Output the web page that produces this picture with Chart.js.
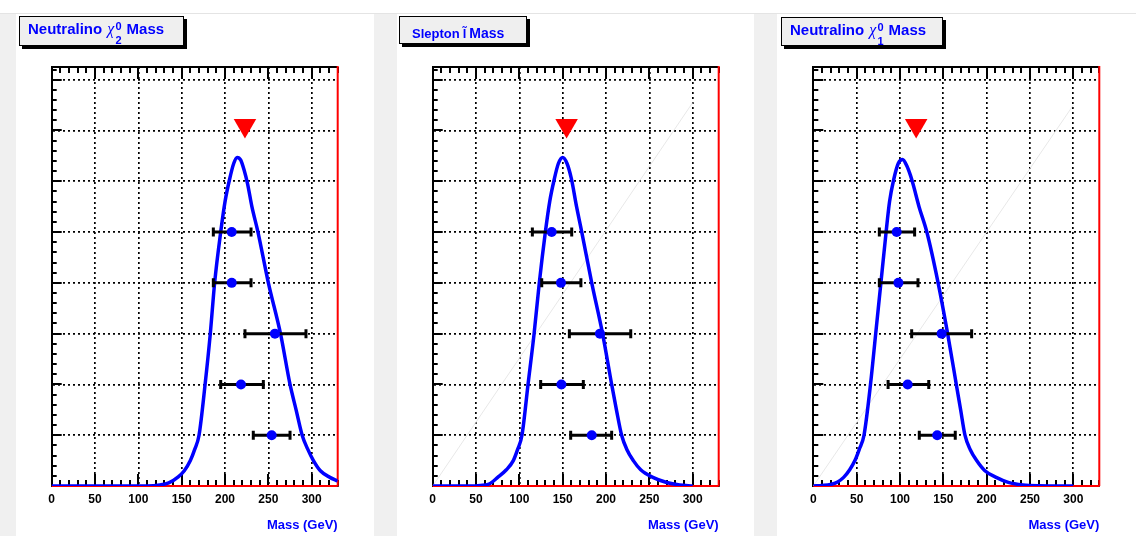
<!DOCTYPE html>
<html>
<head>
<meta charset="utf-8">
<script src="https://cdn.jsdelivr.net/npm/chart.js@4.4.1/dist/chart.umd.min.js"></script>
<style>
  html, body { margin: 0; padding: 0; background: #fff; }
  body { width: 1136px; height: 536px; position: relative; overflow: hidden; font-family: 'Liberation Sans', Arial, sans-serif; }
  .strip { position: absolute; left: 0; top: 13px; width: 1136px; height: 523px; background: #f0f0f0; border-top: 1px solid #e4e4e4; box-sizing: border-box; }
  .pad { position: absolute; top: 14px; height: 522px; background: #fff; }
  .pad canvas { position: absolute; left: 0; top: 0; }
  .tbox { position: absolute; background: #efefef; border: 1px solid #000; box-shadow: 3px 3px 0 #000; box-sizing: border-box; color: #00f; font-weight: bold; }
  .tbox .t { position: absolute; white-space: nowrap; }
  .big { font-size: 15px; line-height: 15px; }
  .small { font-size: 13px; line-height: 13px; }
  .chi { font-family: 'Liberation Serif', serif; font-style: italic; font-weight: normal; font-size: 16px; margin-left: 1px; }
  .ss { display: inline-block; vertical-align: top; position: relative; width: 8px; height: 15px; }
  .ss span { position: absolute; left: 1px; font-size: 11px; line-height: 11px; }
  .ss .sup { top: 0; }
  .ss .sub { top: 14px; }
  .lt { margin-left: 3px; margin-right: 3px; }
  .m14 { font-size: 14px; }
</style>
</head>
<body>
<div class="strip"></div>
<div class="pad" style="left:16px;width:358px"><canvas id="c1" width="358" height="522"></canvas></div>
<div class="pad" style="left:397px;width:357px"><canvas id="c2" width="357" height="522"></canvas></div>
<div class="pad" style="left:777px;width:359px"><canvas id="c3" width="359" height="522"></canvas></div>

<div class="tbox" style="left:19px;top:16px;width:165px;height:30px">
  <div class="t big" style="left:8px;top:4px">Neutralino <span class="chi">χ</span><span class="ss"><span class="sup">0</span><span class="sub">2</span></span> Mass</div>
</div>
<div class="tbox" style="left:399px;top:16px;width:128px;height:28px">
  <div class="t small" style="left:12px;top:10px">Slepton<span class="lt">l̃</span><span class="m14">Mass</span></div>
</div>
<div class="tbox" style="left:781px;top:17px;width:162px;height:29px">
  <div class="t big" style="left:8px;top:4px">Neutralino <span class="chi">χ</span><span class="ss"><span class="sup">0</span><span class="sub">1</span></span> Mass</div>
</div>

<script>
'use strict';

const $ = id => document.getElementById(id);

// ── axes ─────────────────────────────────────────────────────
const X_MAX = 330;
const Y_MAX = 8.25;
const xTicks = [0, 50, 100, 150, 200, 250, 300];
const yGrid  = [1, 2, 3, 4, 5, 6, 7, 8];
const xTitle = 'Mass (GeV)';
const markY  = 7.1;

// ── Neutralino chi2 ──────────────────────────────────────────
const chi2CurveX = [0, 60, 110, 125, 135, 146, 153, 160, 165, 170, 177, 183, 188, 195, 200, 205, 210, 214, 218, 222, 226, 231, 238, 250, 264, 275, 282, 289, 295, 302, 310, 321, 330];
const chi2CurveY = [0, 0, 0, 0.02, 0.06, 0.18, 0.3, 0.5, 0.72, 1.0, 2.0, 3.0, 4.0, 5.0, 5.6, 6.02, 6.35, 6.47, 6.42, 6.22, 5.95, 5.5, 5.0, 4.0, 3.0, 2.0, 1.5, 1.0, 0.74, 0.5, 0.3, 0.17, 0.1];
const chi2PtX  = [207.7, 207.7, 257.6, 218.4, 253.8];
const chi2PtY  = [5, 4, 3, 2, 1];
const chi2ErrLo = [186.5, 186.5, 223, 195, 232.6];
const chi2ErrHi = [230, 230, 293.4, 244.2, 275];
const chi2Mark = 223;

// ── Slepton ──────────────────────────────────────────────────
const slepCurveX = [0, 40, 55, 65, 75, 85, 93, 98, 103, 110, 117, 123, 130, 135, 140, 145, 150, 155, 160, 166, 172, 183.5, 196, 206.5, 212, 218, 224, 231.5, 240, 254, 270, 285, 300];
const slepCurveY = [0, 0, 0.01, 0.04, 0.17, 0.32, 0.5, 0.72, 1.0, 2.0, 3.0, 4.0, 5.0, 5.6, 6.02, 6.35, 6.47, 6.35, 6.05, 5.5, 5.0, 4.0, 3.0, 2.0, 1.5, 1.0, 0.72, 0.5, 0.32, 0.17, 0.07, 0.02, 0];
const slepPtX  = [137.3, 148, 193, 148.5, 183.5];
const slepPtY  = [5, 4, 3, 2, 1];
const slepErrLo = [115, 125.8, 157.7, 124.6, 159.2];
const slepErrHi = [160.4, 171, 228.5, 173.8, 206.5];
const slepMark = 154.5;
const slepDiagX = [0, 300];
const slepDiagY = [0, 7.55];

// ── Neutralino chi1 ──────────────────────────────────────────
const chi1CurveX = [0, 10, 20, 28, 35, 42, 48, 53, 58.5, 66, 72, 78, 84, 88, 92.6, 98, 103, 108, 112, 115, 122, 131, 144, 155, 165, 170, 175, 181, 188.5, 198, 211, 225, 242, 260, 300];
const chi1CurveY = [0, 0.01, 0.03, 0.08, 0.17, 0.32, 0.5, 0.72, 1.0, 2.0, 3.0, 4.0, 5.0, 5.6, 6.02, 6.35, 6.43, 6.3, 6.12, 5.95, 5.5, 5.0, 4.0, 3.0, 2.0, 1.5, 1.0, 0.72, 0.5, 0.3, 0.17, 0.07, 0.02, 0.005, 0];
const chi1PtX  = [96.2, 98.2, 148.1, 108.9, 143];
const chi1PtY  = [5, 4, 3, 2, 1];
const chi1ErrLo = [76.2, 76.2, 113.5, 86.3, 122.3];
const chi1ErrHi = [116.9, 120.8, 182.7, 133.2, 163.8];
const chi1Mark = 118.7;
const chi1DiagX = [0, 300];
const chi1DiagY = [0, 7.5];

const zip = (xs, ys) => xs.map((x, i) => ({ x, y: ys[i] }));

// ── frame: inward ticks, top edge, red right/bottom ─────────
const framePlugin = {
  id: 'frame',
  beforeDatasetsDraw(chart) {
    const { ctx, chartArea: a, scales: { x, y } } = chart;
    ctx.save();
    ctx.strokeStyle = '#000';
    ctx.lineWidth = 2;
    ctx.beginPath();
    for (let v = 0; v <= X_MAX; v += 10) {
      const px = Math.round(x.getPixelForValue(v));
      const len = v % 50 === 0 ? 12 : 6;
      ctx.moveTo(px, a.bottom); ctx.lineTo(px, a.bottom - len);
      ctx.moveTo(px, a.top);    ctx.lineTo(px, a.top + len);
    }
    for (let i = 0; i / 5 <= Y_MAX; i++) {
      const py = Math.round(y.getPixelForValue(i / 5));
      const len = i % 5 === 0 ? 10 : 5;
      ctx.moveTo(a.left, py); ctx.lineTo(a.left + len, py);
    }
    ctx.stroke();

    ctx.lineWidth = 2;
    ctx.beginPath();
    ctx.moveTo(a.left, a.top); ctx.lineTo(a.right, a.top);
    ctx.stroke();

    ctx.strokeStyle = '#f00';
    ctx.beginPath();
    ctx.moveTo(a.left, a.bottom); ctx.lineTo(a.right, a.bottom);
    ctx.moveTo(a.right, a.bottom); ctx.lineTo(a.right, a.top - 1);
    ctx.stroke();
    ctx.restore();
  },
};

// ── one panel ────────────────────────────────────────────────
function buildPanel(id, p, pad) {
  const errData = [];
  p.ptY.forEach((yv, i) => {
    errData.push({ x: p.lo[i], y: yv }, { x: p.hi[i], y: yv }, { x: p.hi[i], y: null });
  });

  const datasets = [
    {
      data: [{ x: p.mark, y: markY }],
      pointStyle: 'triangle', pointRotation: 180, pointRadius: 13,
      pointBackgroundColor: '#f00', pointBorderWidth: 0,
    },
    {
      data: zip(p.ptX, p.ptY),
      pointRadius: 5, pointBackgroundColor: '#00f', pointBorderWidth: 0,
    },
    {
      data: errData, showLine: true, spanGaps: false,
      borderColor: '#000', borderWidth: 3,
      pointStyle: 'line', pointRotation: 90, pointRadius: 4.5,
      pointBorderColor: '#000', pointBorderWidth: 3,
    },
    {
      data: zip(p.curveX, p.curveY), showLine: true,
      borderColor: '#00f', borderWidth: 3.5, pointRadius: 0,
      cubicInterpolationMode: 'monotone',
    },
  ];
  if (p.diagX) {
    datasets.push({
      data: zip(p.diagX, p.diagY), showLine: true,
      borderColor: '#e8e8e8', borderWidth: 1, pointRadius: 0,
    });
  }

  return new Chart($(id).getContext('2d'), {
    type: 'scatter',
    data: { datasets },
    options: {
      responsive: false,
      animation: false,
      devicePixelRatio: 1,
      layout: { padding: { left: pad.left, right: pad.right, top: 53, bottom: 0 } },
      plugins: { legend: { display: false }, tooltip: { enabled: false } },
      scales: {
        x: {
          type: 'linear', min: 0, max: X_MAX,
          afterBuildTicks: s => { s.ticks = xTicks.map(value => ({ value })); },
          afterFit: s => { s.height = 50; },
          grid: { color: '#000', lineWidth: 1.7, drawTicks: false },
          border: { color: '#000', width: 2, dash: [2, 3] },
          ticks: {
            padding: 6, color: '#000',
            font: { family: "'Liberation Sans', Arial", size: 12, weight: 'bold' },
          },
          title: {
            display: true, text: xTitle, align: 'end', color: '#00f',
            font: { family: "'Liberation Sans', Arial", size: 13, weight: 'bold' },
            padding: { top: 0, bottom: 3 },
          },
        },
        y: {
          type: 'linear', min: 0, max: Y_MAX,
          afterBuildTicks: s => { s.ticks = yGrid.map(value => ({ value })); },
          afterFit: s => { s.width = 0; },
          grid: { color: '#000', lineWidth: 1.7, drawTicks: false },
          border: { color: '#000', width: 2, dash: [2, 3] },
          ticks: { display: false },
        },
      },
    },
    plugins: [framePlugin],
  });
}

// ── draw ─────────────────────────────────────────────────────
buildPanel('c1', {
  curveX: chi2CurveX, curveY: chi2CurveY, ptX: chi2PtX, ptY: chi2PtY,
  lo: chi2ErrLo, hi: chi2ErrHi, mark: chi2Mark,
}, { left: 35.7, right: 36.3 });

buildPanel('c2', {
  curveX: slepCurveX, curveY: slepCurveY, ptX: slepPtX, ptY: slepPtY,
  lo: slepErrLo, hi: slepErrHi, mark: slepMark, diagX: slepDiagX, diagY: slepDiagY,
}, { left: 35.7, right: 35.3 });

buildPanel('c3', {
  curveX: chi1CurveX, curveY: chi1CurveY, ptX: chi1PtX, ptY: chi1PtY,
  lo: chi1ErrLo, hi: chi1ErrHi, mark: chi1Mark, diagX: chi1DiagX, diagY: chi1DiagY,
}, { left: 36.3, right: 36.7 });
</script>
</body>
</html>
